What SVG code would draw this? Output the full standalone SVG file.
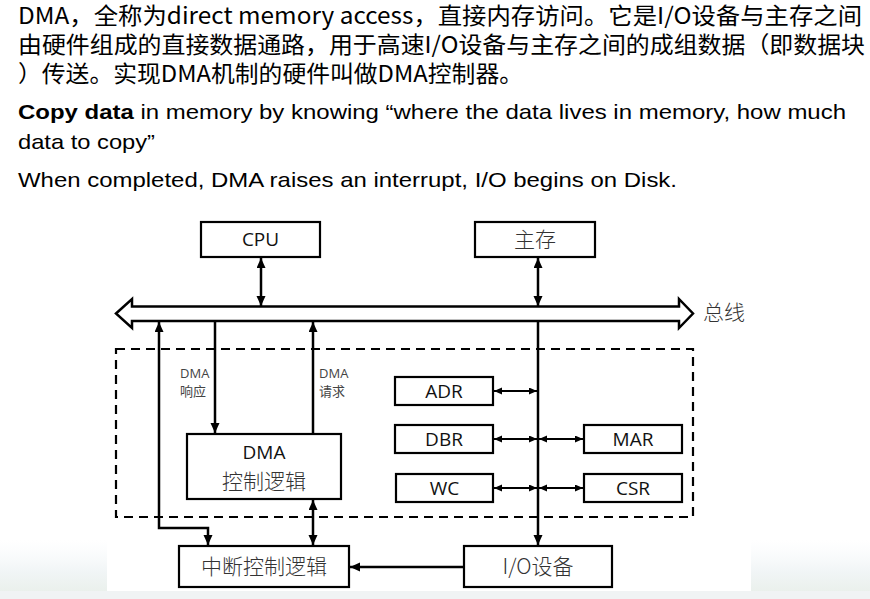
<svg xmlns="http://www.w3.org/2000/svg" width="870" height="599" viewBox="0 0 870 599">
<style>
.cn{font-family:"Noto Sans CJK SC","Noto Sans",sans-serif;font-size:23px;fill:#000}
.en{font-family:"Liberation Sans",Arial,sans-serif;font-size:21px;fill:#000}
.box{fill:#fff;stroke:#000;stroke-width:2.2}
.lbl{font-family:"Open Sans","Noto Sans CJK SC",sans-serif;font-size:19px;fill:#111;text-anchor:middle}
.zh{font-family:"Noto Sans CJK SC",sans-serif;font-size:21px;fill:#333;text-anchor:middle;font-weight:300}
.sm{font-family:"Open Sans","Noto Sans CJK SC",sans-serif;font-size:13px;fill:#444}
.thk{stroke:#000;stroke-width:2.5;fill:none}
.thn{stroke:#000;stroke-width:1.8;fill:none}
</style>
<defs>
<marker id="ah" markerUnits="userSpaceOnUse" markerWidth="12" markerHeight="10" refX="10" refY="4.5" orient="auto-start-reverse">
<path d="M0,0 L10,4.5 L0,9 z" fill="#000"/>
</marker>
<marker id="as" markerUnits="userSpaceOnUse" markerWidth="10" markerHeight="8" refX="8" refY="3.5" orient="auto-start-reverse">
<path d="M0,0 L8,3.5 L0,7 z" fill="#000"/>
</marker>
<linearGradient id="bg" x1="0" y1="0" x2="0" y2="1">
<stop offset="0" stop-color="#f6f9fb" stop-opacity="0"/>
<stop offset="0.6" stop-color="#f1f5f6"/>
<stop offset="1" stop-color="#eaf0ec"/>
</linearGradient>
</defs>
<rect width="870" height="599" fill="#fff"/>
<g id="background">
<rect x="0" y="540" width="107" height="52" fill="url(#bg)"/>
<rect x="751" y="540" width="119" height="52" fill="url(#bg)"/>
<rect x="0" y="591" width="870" height="8" fill="#f0f3f4"/>
</g>
<g id="intro">
<text class="cn" x="18" y="24" textLength="844" lengthAdjust="spacingAndGlyphs">DMA，全称为direct memory access，直接内存访问。它是I/O设备与主存之间</text>
<text class="cn" x="18" y="53" textLength="847" lengthAdjust="spacingAndGlyphs">由硬件组成的直接数据通路，用于高速I/O设备与主存之间的成组数据（即数据块</text>
<text class="cn" x="18" y="82" textLength="505" lengthAdjust="spacingAndGlyphs">）传送。实现DMA机制的硬件叫做DMA控制器。</text>
<text class="en" x="18" y="119" textLength="828" lengthAdjust="spacingAndGlyphs"><tspan font-weight="bold">Copy data</tspan> in memory by knowing “where the data lives in memory, how much</text>
<text class="en" x="18" y="149" textLength="137" lengthAdjust="spacingAndGlyphs">data to copy”</text>
<text class="en" x="18" y="187" textLength="659" lengthAdjust="spacingAndGlyphs">When completed, DMA raises an interrupt, I/O begins on Disk.</text>
</g>
<g id="bus">
<polygon points="116,313.5 132,299 132,306.5 679,306.5 679,299 693,313.5 679,328 679,321 132,321 132,328" fill="#fff" stroke="#000" stroke-width="2.5" stroke-linejoin="miter"/>
<text class="zh" x="724" y="320">总线</text>
</g>
<g id="dma-controller">
<rect x="116" y="349" width="577" height="168" fill="none" stroke="#000" stroke-width="2.2" stroke-dasharray="9,6"/>
</g>
<g id="connectors">
<line class="thk" x1="261" y1="258" x2="261" y2="306" marker-start="url(#ah)" marker-end="url(#ah)"/>
<line class="thk" x1="538" y1="258" x2="538" y2="306" marker-start="url(#ah)" marker-end="url(#ah)"/>
<line class="thk" x1="215" y1="322" x2="215" y2="433" marker-end="url(#ah)"/>
<line class="thk" x1="313" y1="433" x2="313" y2="322" marker-end="url(#ah)"/>
<polyline class="thk" points="159,322 159,528 208,528 208,545" marker-start="url(#ah)" marker-end="url(#ah)"/>
<line class="thk" x1="313" y1="500" x2="313" y2="545" marker-start="url(#ah)" marker-end="url(#ah)"/>
<line class="thk" x1="538" y1="322" x2="538" y2="545" marker-end="url(#ah)"/>
<line class="thk" x1="463" y1="567" x2="350" y2="567" marker-end="url(#ah)"/>
<line class="thn" x1="494" y1="391" x2="537" y2="391" marker-start="url(#as)" marker-end="url(#as)"/>
<line class="thn" x1="494" y1="439" x2="537" y2="439" marker-start="url(#as)" marker-end="url(#as)"/>
<line class="thn" x1="539" y1="439" x2="583" y2="439" marker-start="url(#as)" marker-end="url(#as)"/>
<line class="thn" x1="494" y1="488" x2="537" y2="488" marker-start="url(#as)" marker-end="url(#as)"/>
<line class="thn" x1="539" y1="488" x2="583" y2="488" marker-start="url(#as)" marker-end="url(#as)"/>
</g>
<g id="labels">
<text class="sm" x="180" y="378">DMA</text>
<text class="sm" x="180" y="396">响应</text>
<text class="sm" x="319" y="378">DMA</text>
<text class="sm" x="319" y="396">请求</text>
</g>
<g id="cpu"><rect class="box" x="201" y="222" width="119" height="35"/><text class="lbl" x="260.5" y="246" font-size="18">CPU</text></g>
<g id="memory"><rect class="box" x="475" y="222" width="120" height="35"/><text class="zh" x="535" y="247">主存</text></g>
<g id="dma-logic"><rect class="box" x="187" y="434" width="154" height="65"/><text class="lbl" x="264" y="459">DMA</text><text class="zh" x="264" y="489">控制逻辑</text></g>
<g id="adr"><rect class="box" x="395" y="377" width="98" height="28"/><text class="lbl" x="444" y="398">ADR</text></g>
<g id="dbr"><rect class="box" x="395" y="425" width="98" height="28"/><text class="lbl" x="444" y="446">DBR</text></g>
<g id="wc"><rect class="box" x="396" y="474" width="97" height="28"/><text class="lbl" x="444.5" y="495">WC</text></g>
<g id="mar"><rect class="box" x="584" y="425" width="98" height="28"/><text class="lbl" x="633" y="446">MAR</text></g>
<g id="csr"><rect class="box" x="584" y="474" width="98" height="28"/><text class="lbl" x="633" y="495">CSR</text></g>
<g id="interrupt"><rect class="box" x="179" y="546" width="170" height="41"/><text class="zh" x="264" y="574" font-size="22">中断控制逻辑</text></g>
<g id="io"><rect class="box" x="464" y="546" width="148" height="41"/><text class="zh" x="538" y="574">I/O设备</text></g>
</svg>
